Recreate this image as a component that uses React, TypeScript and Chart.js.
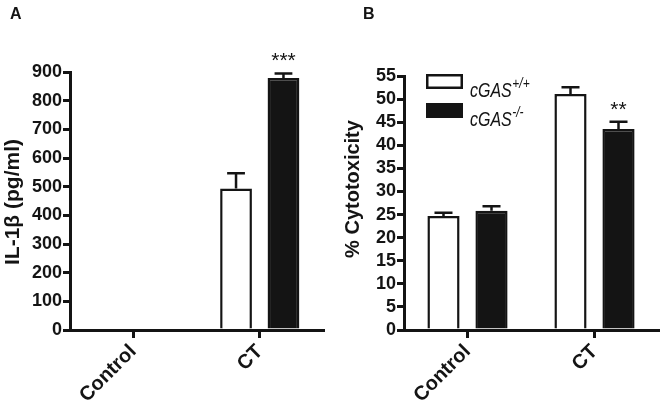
import React, { useEffect, useRef } from "react";
import { Chart, registerables } from "chart.js";

Chart.register(...registerables);

// ---------- data ----------
const categories = ["Control", "CT"];

// Panel A: IL-1β (pg/ml)
const il1bWildType = [0, 494];
const il1bWildTypeErr = [0, 53];
const il1bKnockout = [0, 879];
const il1bKnockoutErr = [0, 16];
const il1bSignificance = ["", "***"];
const il1bAxisMax = 900;
const il1bAxisStep = 100;

// Panel B: % Cytotoxicity
const cytoWildType = [24.7, 51.1];
const cytoWildTypeErr = [0.7, 1.45];
const cytoKnockout = [25.8, 43.5];
const cytoKnockoutErr = [1.0, 1.6];
const cytoSignificance = ["", "**"];
const cytoAxisMax = 55;
const cytoAxisStep = 5;

const seriesBase = ["cGAS", "cGAS"];
const seriesSup = ["+/+", "-/-"];

// ---------- styles ----------
const INK = "#141414";
const FONT = "'Liberation Sans', Arial, Helvetica, sans-serif";

const errorBarPlugin = {
  id: "errorBars",
  afterDatasetsDraw(chart: any) {
    const ctx = chart.ctx;
    const yScale = chart.scales.y;
    chart.data.datasets.forEach((ds: any, di: number) => {
      const meta = chart.getDatasetMeta(di);
      const errs = ds.errors || [];
      meta.data.forEach((bar: any, i: number) => {
        const v = ds.data[i];
        const e = errs[i];
        if (!e) return;
        const { x, width } = bar.getProps(["x", "width"], true);
        const yTop = yScale.getPixelForValue(v + e);
        const yBase = yScale.getPixelForValue(v);
        const capHalf = width * 0.28;
        ctx.save();
        ctx.strokeStyle = INK;
        ctx.lineWidth = 2.5;
        ctx.beginPath();
        ctx.moveTo(x, yBase);
        ctx.lineTo(x, yTop);
        ctx.moveTo(x - capHalf, yTop);
        ctx.lineTo(x + capHalf, yTop);
        ctx.stroke();
        ctx.restore();
      });
    });
  },
};

const starsPlugin = {
  id: "stars",
  afterDatasetsDraw(chart: any, _args: any, opts: any) {
    if (!opts || !opts.labels) return;
    const ctx = chart.ctx;
    const yScale = chart.scales.y;
    const di = opts.datasetIndex;
    const ds = chart.data.datasets[di];
    const meta = chart.getDatasetMeta(di);
    meta.data.forEach((bar: any, i: number) => {
      const txt = opts.labels[i];
      if (!txt) return;
      const { x } = bar.getProps(["x"], true);
      const top = yScale.getPixelForValue(ds.data[i] + (ds.errors?.[i] || 0));
      ctx.save();
      ctx.fillStyle = INK;
      ctx.font = `21px ${FONT}`;
      ctx.textAlign = "center";
      ctx.textBaseline = "alphabetic";
      ctx.fillText(txt, x, top - 6);
      ctx.restore();
    });
  },
};

const annotPlugin = {
  id: "annot",
  afterDraw(chart: any, _args: any, opts: any) {
    const ctx = chart.ctx;
    const area = chart.chartArea;
    ctx.save();
    ctx.fillStyle = INK;
    // panel letter
    ctx.font = `bold 16px ${FONT}`;
    ctx.textAlign = "left";
    ctx.textBaseline = "alphabetic";
    ctx.fillText(opts.letter, opts.letterX, 19);
    // y-axis title
    ctx.save();
    ctx.translate(opts.titleX, (area.top + area.bottom) / 2 + opts.titleShift);
    ctx.rotate(-Math.PI / 2);
    ctx.font = `bold ${opts.titleSize}px ${FONT}`;
    ctx.textAlign = "center";
    ctx.textBaseline = "middle";
    ctx.fillText(opts.title, 0, 0);
    ctx.restore();
    // legend
    if (opts.legend) {
      const boxX = area.left + 22;
      const boxW = 37;
      const boxH = 15;
      chart.data.datasets.forEach((ds: any, i: number) => {
        const boxY = area.top - 2 + i * 29;
        ctx.lineWidth = 2.5;
        ctx.strokeStyle = INK;
        ctx.fillStyle = ds.backgroundColor;
        ctx.fillRect(boxX, boxY, boxW, boxH);
        ctx.strokeRect(boxX + 1.25, boxY + 1.25, boxW - 2.5, boxH - 2.5);
        const baseY = boxY + 23;
        ctx.fillStyle = INK;
        ctx.save();
        ctx.translate(boxX + 44, baseY);
        ctx.scale(1, 1.25);
        ctx.font = `italic 16px ${FONT}`;
        ctx.textAlign = "left";
        ctx.textBaseline = "alphabetic";
        ctx.fillText(seriesBase[i], 0, 0);
        const w = ctx.measureText(seriesBase[i]).width;
        ctx.font = `italic 12px ${FONT}`;
        ctx.fillText(seriesSup[i], w + 0.5, -7.5);
        ctx.restore();
      });
    }
    ctx.restore();
  },
};

type PanelSpec = {
  wt: number[];
  wtErr: number[];
  ko: number[];
  koErr: number[];
  stars: string[];
  max: number;
  step: number;
  padTop: number;
  padRight: number;
  yWidth: number;
  catPct: number;
  letter: string;
  letterX: number;
  title: string;
  titleX: number;
  titleSize: number;
  titleShift: number;
  legend: boolean;
};

function makeConfig(p: PanelSpec): any {
  return {
    type: "bar",
    data: {
      labels: categories,
      datasets: [
        {
          label: seriesBase[0] + seriesSup[0],
          data: p.wt,
          errors: p.wtErr,
          backgroundColor: "#ffffff",
          borderColor: INK,
          borderWidth: 2.5,
          barPercentage: 0.67,
          categoryPercentage: p.catPct,
        },
        {
          label: seriesBase[1] + seriesSup[1],
          data: p.ko,
          errors: p.koErr,
          backgroundColor: INK,
          borderColor: INK,
          borderWidth: 2.5,
          barPercentage: 0.67,
          categoryPercentage: p.catPct,
        },
      ],
    },
    options: {
      responsive: false,
      animation: false,
      devicePixelRatio: 1,
      layout: { padding: { left: 0, top: p.padTop, right: p.padRight, bottom: 0 } },
      plugins: {
        legend: { display: false },
        tooltip: { enabled: false },
        stars: { labels: p.stars, datasetIndex: 1 },
        annot: {
          letter: p.letter,
          letterX: p.letterX,
          title: p.title,
          titleX: p.titleX,
          titleSize: p.titleSize,
          titleShift: p.titleShift,
          legend: p.legend,
        },
      },
      scales: {
        x: {
          offset: true,
          grid: {
            offset: false,
            drawOnChartArea: false,
            drawTicks: true,
            tickLength: 8,
            lineWidth: 3,
            color: INK,
          },
          border: { display: true, width: 3, color: INK },
          ticks: {
            color: INK,
            font: { family: FONT, size: 20, weight: "bold" },
            minRotation: 45,
            maxRotation: 45,
            padding: 2,
          },
          afterFit: (s: any) => {
            s.height = 75;
          },
        },
        y: {
          min: 0,
          max: p.max,
          ticks: {
            stepSize: p.step,
            maxTicksLimit: 30,
            autoSkip: false,
            color: INK,
            font: { family: FONT, size: 18, weight: "bold" },
            padding: 1,
          },
          grid: {
            drawOnChartArea: false,
            drawTicks: true,
            tickLength: 7,
            lineWidth: 3,
            color: INK,
          },
          border: { display: true, width: 3, color: INK },
          afterFit: (s: any) => {
            s.width = p.yWidth;
          },
        },
      },
    },
    plugins: [errorBarPlugin, starsPlugin, annotPlugin],
  };
}

const panelA: PanelSpec = {
  wt: il1bWildType,
  wtErr: il1bWildTypeErr,
  ko: il1bKnockout,
  koErr: il1bKnockoutErr,
  stars: il1bSignificance,
  max: il1bAxisMax,
  step: il1bAxisStep,
  padTop: 72,
  padRight: 10,
  yWidth: 70,
  catPct: 0.75,
  letter: "A",
  letterX: 10,
  title: "IL-1β (pg/ml)",
  titleX: 13,
  titleSize: 21,
  titleShift: 1,
  legend: false,
};

const panelB: PanelSpec = {
  wt: cytoWildType,
  wtErr: cytoWildTypeErr,
  ko: cytoKnockout,
  koErr: cytoKnockoutErr,
  stars: cytoSignificance,
  max: cytoAxisMax,
  step: cytoAxisStep,
  padTop: 76,
  padRight: 8,
  yWidth: 71,
  catPct: 0.756,
  letter: "B",
  letterX: 30,
  title: "% Cytotoxicity",
  titleX: 20,
  titleSize: 20,
  titleShift: -14,
  legend: true,
};

function Panel({ spec, left }: { spec: PanelSpec; left: number }) {
  const ref = useRef<HTMLCanvasElement | null>(null);
  useEffect(() => {
    if (!ref.current) return;
    const chart = new Chart(ref.current, makeConfig(spec));
    return () => chart.destroy();
  }, [spec]);
  return (
    <div style={{ position: "absolute", left, top: 0, width: 333, height: 405 }}>
      <canvas ref={ref} width={333} height={405} style={{ display: "block" }} />
    </div>
  );
}

export default function App() {
  return (
    <div
      style={{
        position: "fixed",
        left: 0,
        top: 0,
        width: 666,
        height: 405,
        background: "#ffffff",
        overflow: "hidden",
      }}
    >
      <Panel spec={panelA} left={0} />
      <Panel spec={panelB} left={333} />
    </div>
  );
}
